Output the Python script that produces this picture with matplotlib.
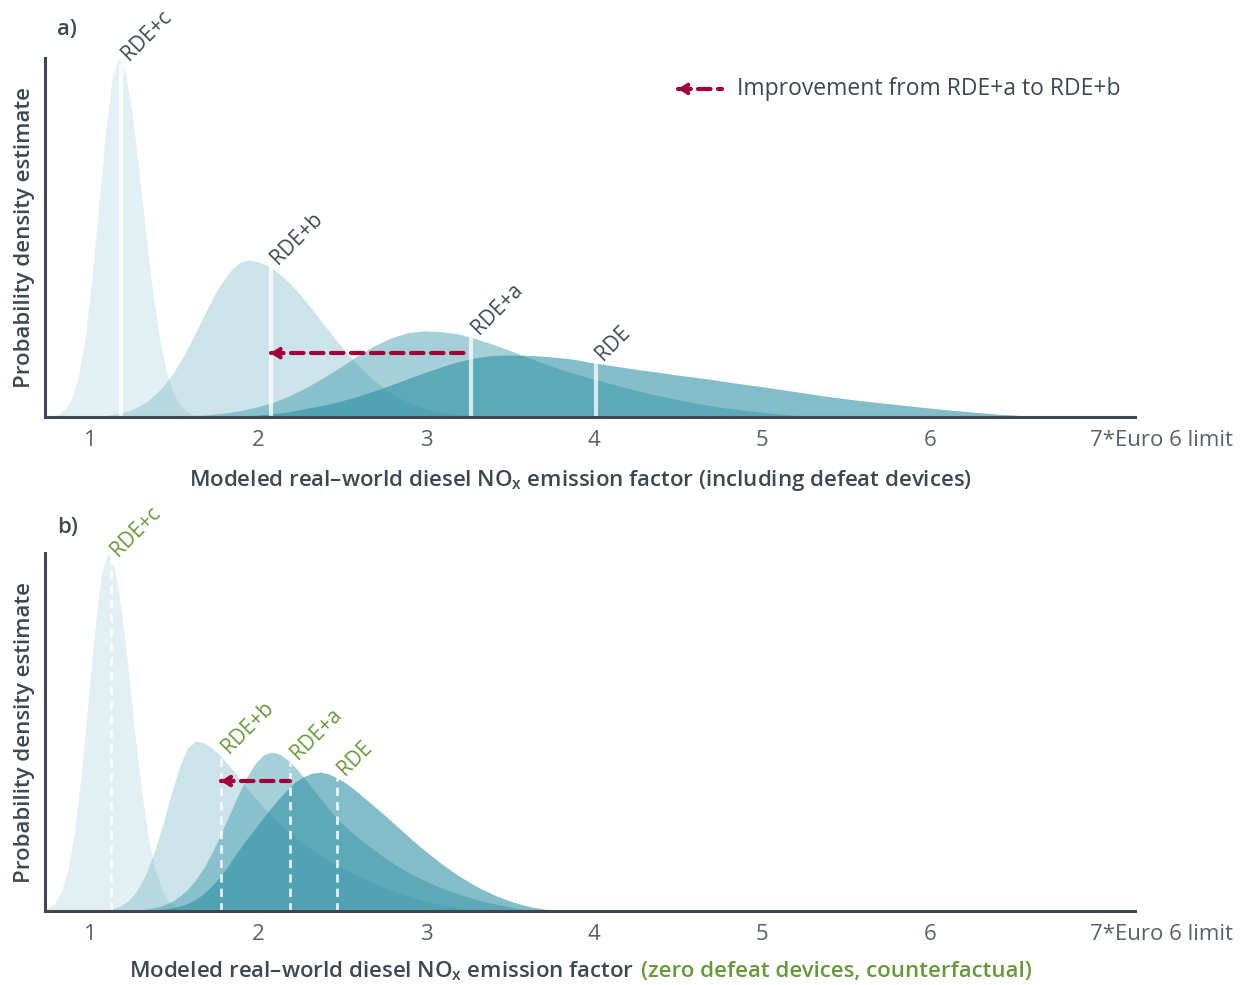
import numpy as np
import matplotlib.pyplot as plt
from matplotlib.transforms import ScaledTranslation

plt.rcParams['font.family'] = ['Open Sans', 'DejaVu Sans']
plt.rcParams['mathtext.fontset'] = 'custom'
plt.rcParams['mathtext.rm'] = 'Open Sans'

TEAL = '#2b8fa3'
ALPHAS = [0.13, 0.24, 0.42, 0.59]
DARK = '#3d4852'
TICK_GRAY = '#59626a'
GREEN = '#67993a'
ARROW = '#a1003c'
DASH = (3.0, 1.8)

names = ['RDE+c', 'RDE+b', 'RDE+a', 'RDE']
xticks = [1, 2, 3, 4, 5, 6, 7]
xticklabels = ['1', '2', '3', '4', '5', '6', '7*Euro 6 limit']

# a) including defeat devices: (start, step, density) per scenario
a_c_start, a_c_step = 0.73, 0.04
a_c = [0.0, 0.0024, 0.0075, 0.021, 0.052, 0.113, 0.220, 0.380, 0.581, 0.783, 0.941, 1.0,
       0.960, 0.849, 0.693, 0.520, 0.360, 0.230, 0.135, 0.073, 0.037, 0.017, 0.007,
       0.003, 0.001, 0.0]
a_b_start, a_b_step = 1.04, 0.05
a_b = [0.0, 0.0043, 0.0073, 0.0121, 0.019, 0.030, 0.044, 0.064, 0.088, 0.120, 0.157,
       0.200, 0.246, 0.294, 0.340, 0.378, 0.409, 0.430, 0.437,
       0.434, 0.426, 0.413, 0.394, 0.372, 0.347, 0.319, 0.289, 0.259, 0.229, 0.200,
       0.172, 0.147, 0.123, 0.102, 0.084, 0.068, 0.054, 0.042, 0.033, 0.025, 0.019,
       0.014, 0.011, 0.0077, 0.0056, 0.0038, 0.0025, 0.0012, 0.0]
a_a_start, a_a_step = 1.49, 0.1
a_a = [0.0, 0.0034, 0.006, 0.0105, 0.0175, 0.0276, 0.041, 0.060, 0.083, 0.110,
       0.139, 0.170, 0.198, 0.220, 0.235, 0.240,
       0.238, 0.232, 0.219, 0.204, 0.187, 0.169, 0.151, 0.135, 0.120, 0.107,
       0.094, 0.082, 0.070, 0.059, 0.049, 0.040, 0.032, 0.025, 0.019, 0.014,
       0.009, 0.005, 0.002, 0.0]
a_r_start, a_r_step = 1.88, 0.1
a_r = [0.0, 0.005, 0.009, 0.0145, 0.0234, 0.032, 0.043, 0.056, 0.071, 0.0875,
       0.105, 0.122, 0.138, 0.153, 0.164, 0.171, 0.173,
       0.172, 0.170, 0.166, 0.161, 0.152, 0.145, 0.138, 0.131, 0.125, 0.118,
       0.112, 0.106, 0.099, 0.092, 0.086, 0.079, 0.072, 0.065, 0.058, 0.052,
       0.046, 0.041, 0.036, 0.031, 0.026, 0.021, 0.017, 0.013, 0.009, 0.006,
       0.003, 0.0]
a_means = [1.185, 2.075, 3.27, 4.01]

# b) zero defeat devices, counterfactual
b_c_start, b_c_step = 0.667, 0.04
b_c = [0.0, 0.0024, 0.0075, 0.021, 0.052, 0.113, 0.220, 0.380, 0.581, 0.783, 0.941, 1.0,
       0.957, 0.839, 0.674, 0.495, 0.334, 0.206, 0.116, 0.060, 0.029, 0.012, 0.005,
       0.002, 0.0]
b_b_start, b_b_step = 1.03, 0.05
b_b = [0.0, 0.0025, 0.0063, 0.014, 0.030, 0.057, 0.101, 0.162, 0.237, 0.322, 0.400,
       0.455, 0.475,
       0.469, 0.454, 0.432, 0.405, 0.376, 0.346, 0.318, 0.291, 0.266, 0.243, 0.222,
       0.203, 0.185, 0.168, 0.153, 0.139, 0.126, 0.114, 0.102, 0.091, 0.080, 0.070,
       0.061, 0.052, 0.044, 0.037, 0.030, 0.024, 0.018, 0.013, 0.009, 0.005, 0.002, 0.0]
b_a_start, b_a_step = 1.28, 0.05
b_a = [0.0, 0.0049, 0.0089, 0.015, 0.025, 0.040, 0.060, 0.088, 0.123, 0.167, 0.216,
       0.270, 0.322, 0.371, 0.410, 0.435, 0.444,
       0.438, 0.421, 0.397, 0.369, 0.339, 0.309, 0.280, 0.254, 0.232, 0.211, 0.192,
       0.174, 0.157, 0.141, 0.126, 0.112, 0.099, 0.088, 0.077, 0.067, 0.058, 0.050,
       0.042, 0.035, 0.029, 0.023, 0.018, 0.013, 0.009, 0.005, 0.002, 0.0]
b_r_start, b_r_step = 1.27, 0.05
b_r = [0.0, 0.001, 0.002, 0.004, 0.007, 0.012, 0.019, 0.030, 0.046, 0.068, 0.094,
       0.125, 0.160, 0.193, 0.223, 0.254, 0.284, 0.312, 0.337, 0.360, 0.375, 0.385, 0.388,
       0.383, 0.372, 0.358, 0.341, 0.321, 0.301, 0.281, 0.261, 0.240, 0.219, 0.198,
       0.178, 0.159, 0.140, 0.123, 0.106, 0.091, 0.077, 0.064, 0.053, 0.042, 0.033,
       0.025, 0.018, 0.012, 0.008, 0.004, 0.002, 0.0]
b_means = [1.123, 1.78, 2.19, 2.47]


def grid(start, step, vals):
    return start + step * np.arange(len(vals))


def dashed_arrow(ax, x_tip, x_tail, y, transform):
    # dashes start at the tip so the tail ends in a short stub
    ax.plot([x_tip, x_tail], [y, y], color=ARROW, lw=3, dashes=DASH,
            dash_capstyle='round', transform=transform)
    ax.annotate('', xy=(x_tip, y), xytext=(9, 0), xycoords=transform,
                textcoords='offset points',
                arrowprops=dict(arrowstyle='->,head_length=0.45,head_width=0.3',
                                color=ARROW, lw=3, shrinkA=0, shrinkB=0,
                                capstyle='round'))


def draw_panel(ax, curves, means, dashed, label_color, arrow_y):
    for (start, step, vals), alpha in zip(curves, ALPHAS):
        x = grid(start, step, vals)
        ax.fill_between(x, 0, vals, color=TEAL, alpha=alpha, lw=0)
    for (start, step, vals), m, name in zip(curves, means, names):
        x = grid(start, step, vals)
        top = np.interp(m, x, vals)
        if dashed:
            ax.plot([m, m], [0, top], color='white', lw=2, alpha=0.85,
                    dashes=(3, 2.2))
        else:
            ax.plot([m, m], [0, top], color='white', lw=3, alpha=0.75,
                    solid_capstyle='butt')
        ax.annotate(name, xy=(m, top), xytext=(5.5, 1.5), textcoords='offset points',
                    rotation=45, rotation_mode='anchor', ha='left', va='baseline',
                    fontsize=15, color=label_color)
    # improvement arrow from RDE+a mean back to RDE+b mean
    dashed_arrow(ax, means[1], means[2], arrow_y, ax.transData)

    ax.set_xlim(0.732, 7.22)
    ax.set_ylim(0, 1.0)
    for s in ['top', 'right']:
        ax.spines[s].set_visible(False)
    for s in ['left', 'bottom']:
        ax.spines[s].set_color(DARK)
        ax.spines[s].set_linewidth(2.2)
    ax.set_yticks([])
    ax.set_xticks(xticks)
    ax.set_xticklabels(xticklabels, fontsize=16, color=TICK_GRAY)
    ax.tick_params(axis='x', length=0, pad=9)
    last = ax.get_xticklabels()[-1]
    last.set_ha('left')
    last.set_transform(last.get_transform() + ScaledTranslation(-6 / 72, 0, ax.figure.dpi_scale_trans))
    ax.set_ylabel('Probability density estimate', fontsize=16, fontweight='semibold',
                  color=DARK, labelpad=7)


fig = plt.figure(figsize=(12.43, 9.85), dpi=100)
ax1 = fig.add_axes([0.0362, 0.5766, 0.8769, 0.3645])
ax2 = fig.add_axes([0.0362, 0.0751, 0.8769, 0.3635])

curves_a = [(a_c_start, a_c_step, a_c), (a_b_start, a_b_step, a_b),
            (a_a_start, a_a_step, a_a), (a_r_start, a_r_step, a_r)]
curves_b = [(b_c_start, b_c_step, b_c), (b_b_start, b_b_step, b_b),
            (b_a_start, b_a_step, b_a), (b_r_start, b_r_step, b_r)]

draw_panel(ax1, curves_a, a_means, False, DARK, 0.178)
draw_panel(ax2, curves_b, b_means, True, GREEN, 0.363)

# legend entry for the arrow
dashed_arrow(ax1, 0.581, 0.621, 0.914, ax1.transAxes)
ax1.text(0.635, 0.914, 'Improvement from RDE+a to RDE+b', transform=ax1.transAxes,
         fontsize=16.5, color=DARK, va='center', ha='left')

fig.text(67 / 1243, 1 - 30 / 985, 'a)', fontsize=16, fontweight='semibold', color=DARK,
         ha='center', va='center')
fig.text(68 / 1243, 1 - 528 / 985, 'b)', fontsize=16, fontweight='semibold', color=DARK,
         ha='center', va='center')

# x axis titles
xc = 580.5 / 1243
fig.text(xc, 1 - 486 / 985,
         r'Modeled real–world diesel NO$_{\mathregular{x}}$ emission factor (including defeat devices)',
         fontsize=16, fontweight='semibold', color=DARK, ha='center', va='baseline')
t1 = fig.text(0, 1 - 977 / 985,
              r'Modeled real–world diesel NO$_{\mathregular{x}}$ emission factor',
              fontsize=16, fontweight='semibold', color=DARK, ha='left', va='baseline')
t2 = fig.text(0, 1 - 977 / 985, '(zero defeat devices, counterfactual)',
              fontsize=16, fontweight='semibold', color=GREEN, ha='left', va='baseline')
fig.canvas.draw()
r = fig.canvas.get_renderer()
w1 = t1.get_window_extent(r).width
w2 = t2.get_window_extent(r).width
gap = 7
W = fig.bbox.width
x0 = xc * W - (w1 + gap + w2) / 2
t1.set_x(x0 / W)
t2.set_x((x0 + w1 + gap) / W)

fig.savefig('out.png', dpi=100)
